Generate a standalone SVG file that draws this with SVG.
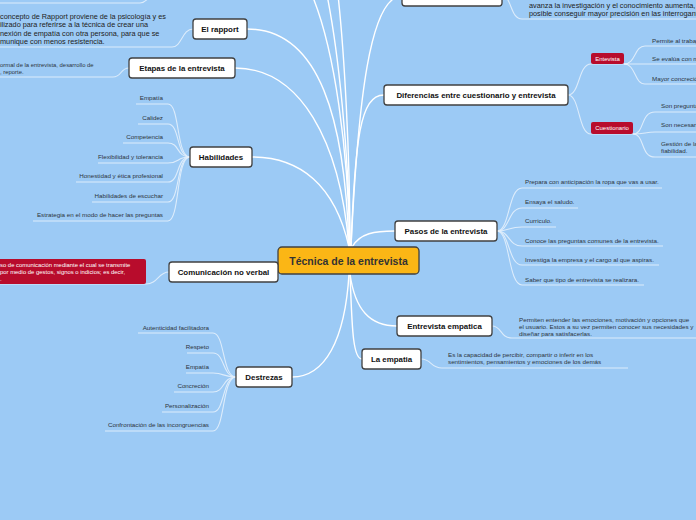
<svg xmlns="http://www.w3.org/2000/svg" width="696" height="520" viewBox="0 0 696 520">
<style>
.bg{fill:#9ccaf5}
.main{fill:none;stroke:#ffffff;stroke-width:1.4}
.sub{fill:none;stroke:#e3f0fc;stroke-width:1.1;opacity:0.9}
.node{fill:#ffffff;stroke:#404040;stroke-width:1.3}
.center{fill:#fbb615;stroke:#404040;stroke-width:1.3}
.red{fill:#b80c2c}
.nt{font-family:"Liberation Sans",Arial,sans-serif;font-weight:bold;font-size:7.9px;fill:#111;text-anchor:middle}
.ct{font-family:"Liberation Sans",Arial,sans-serif;font-weight:bold;font-size:10.5px;fill:#333;text-anchor:middle}
.lf{font-family:"Liberation Sans",Arial,sans-serif;font-size:6.25px;fill:#2d3540}
.lr{font-family:"Liberation Sans",Arial,sans-serif;font-size:6.25px;fill:#2d3540;text-anchor:end}
.big{font-family:"Liberation Sans",Arial,sans-serif;font-size:7.3px;fill:#222}
.wt{font-family:"Liberation Sans",Arial,sans-serif;font-size:5.9px;fill:#ffffff}
.rt{font-family:"Liberation Sans",Arial,sans-serif;font-size:6px;fill:#ffffff;text-anchor:middle}
</style>
<rect class="bg" x="0" y="0" width="696" height="520"/>
<g id="connectors">
<path class="main" d="M349 247 C345 120 320 29 247 29"/>
<path class="main" d="M349 247 C340 140 300 68 235 68"/>
<path class="main" d="M349 247 C335 185 300 157 252 157"/>
<path class="main" d="M351 247 C355 140 360 95 384 95"/>
<path class="main" d="M351 247 C358 100 370 -4 402 -4"/>
<path class="main" d="M350 247 C348 150 335 50 312 -5"/>
<path class="main" d="M350 247 C349 150 338 50 327 -5"/>
<path class="main" d="M350 247 C350 150 344 50 338 -5"/>
<path class="main" d="M352 247 C360 233 375 231 395 231"/>
<path class="main" d="M350 274 C355 310 370 326 397 326"/>
<path class="main" d="M350 274 C352 320 352 359 362 359"/>
<path class="main" d="M349 274 C345 340 325 377 292 377"/>
<path class="sub" d="M0 3 L140 3 C146 3 148 -2 152 -6"/>
<path class="sub" d="M0 47 L172 47 C182 47 182 29 193 29"/>
<path class="sub" d="M0 77 L113 77 C122 77 120 68 129 68"/>
<path class="sub" d="M502 -4 C512 -4 510 19 522 19 L696 19"/>
<path class="sub" d="M568 95 C580 95 578 64 591 64 L628 64"/>
<path class="sub" d="M568 95 C580 95 578 134 591 134 L633 134"/>
<path class="sub" d="M624 64 C636 64 634 46 645 46 L696 46"/>
<path class="sub" d="M624 64 L696 64"/>
<path class="sub" d="M624 64 C636 64 634 84 645 84 L696 84"/>
<path class="sub" d="M633 134 C645 134 640 112 655 112 L696 112"/>
<path class="sub" d="M633 134 C645 134 645 132 655 132 L696 132"/>
<path class="sub" d="M633 134 C645 134 640 157 655 157 L696 157"/>
<path class="sub" d="M136 104 L168 104 C180 104 176 157 190 157"/>
<path class="sub" d="M138 124 L168 124 C180 124 176 157 190 157"/>
<path class="sub" d="M123 143 L168 143 C180 143 176 157 190 157"/>
<path class="sub" d="M98 163 L168 163 C180 163 176 157 190 157"/>
<path class="sub" d="M76 182 L168 182 C180 182 176 157 190 157"/>
<path class="sub" d="M92 202 L168 202 C180 202 176 157 190 157"/>
<path class="sub" d="M33 221 L168 221 C180 221 176 157 190 157"/>
<path class="sub" d="M138 333 L213 333 C225 333 222 377 236 377"/>
<path class="sub" d="M187 353 L213 353 C225 353 222 377 236 377"/>
<path class="sub" d="M186 373 L213 373 C225 373 222 377 236 377"/>
<path class="sub" d="M174 392 L213 392 C225 392 222 377 236 377"/>
<path class="sub" d="M162 412 L213 412 C225 412 222 377 236 377"/>
<path class="sub" d="M105 431 L213 431 C225 431 222 377 236 377"/>
<path class="sub" d="M497 231 C510 231 508 188 522 188 L662 188"/>
<path class="sub" d="M497 231 C510 231 508 208 522 208 L578 208"/>
<path class="sub" d="M497 231 C510 231 508 227 522 227 L556 227"/>
<path class="sub" d="M497 231 C510 231 508 246 522 246 L663 246"/>
<path class="sub" d="M497 231 C510 231 508 265 522 265 L659 265"/>
<path class="sub" d="M497 231 C510 231 508 285 522 285 L644 285"/>
<path class="sub" d="M0 284 L146 284 C158 284 158 272 169 272"/>
<path class="sub" d="M492 326 C502 326 500 338 512 338 L696 338"/>
<path class="sub" d="M421 359 C432 359 430 368 442 368 L628 368"/>
</g>
<g id="center"><rect class="center" x="278" y="247" width="141" height="27" rx="4"/><text class="ct" x="348.5" y="264.5">Técnica de la entrevista</text></g>
<g id="top-node"><rect class="node" x="402" y="-14" width="100" height="20" rx="3"/></g>
<g id="top-text"><text class="big" x="529" y="8">avanza la investigación y el conocimiento aumenta, es</text><text class="big" x="529" y="16">posible conseguir mayor precisión en las interrogantes</text></g>
<g id="rapport"><rect class="node" x="193" y="19" width="54" height="20" rx="3"/><text class="nt" x="220" y="32">El rapport</text></g>
<g id="rapport-text"><text class="big" x="0" y="18.5">concepto de Rapport proviene de la psicología y es</text><text class="big" x="0" y="27">ilizado para referirse a la técnica de crear una</text><text class="big" x="0" y="35.5">nexión de empatía con otra persona, para que se</text><text class="big" x="0" y="44">munique con menos resistencia.</text></g>
<g id="etapas"><rect class="node" x="129" y="58" width="106" height="20" rx="3"/><text class="nt" x="182" y="71">Etapas de la entrevista</text></g>
<g id="etapas-text"><text class="lf" x="0" y="67" style="font-size:5.9px">ormal de la entrevista, desarrollo de</text><text class="lf" x="0" y="74" style="font-size:5.9px">, reporte.</text></g>
<g id="habilidades"><rect class="node" x="190" y="147" width="62" height="20" rx="3"/><text class="nt" x="221" y="160">Habilidades</text></g>
<g id="habilidades-items">
<text class="lr" x="163" y="100">Empatía</text>
<text class="lr" x="163" y="120">Calidez</text>
<text class="lr" x="163" y="139">Competencia</text>
<text class="lr" x="163" y="159">Flexibilidad y tolerancia</text>
<text class="lr" x="163" y="178">Honestidad y ética profesional</text>
<text class="lr" x="163" y="198">Habilidades de escuchar</text>
<text class="lr" x="163" y="217">Estrategia en el modo de hacer las preguntas</text>
</g>
<g id="comunicacion"><rect class="node" x="169" y="262" width="109" height="20" rx="3"/><text class="nt" x="223.5" y="275">Comunicación no verbal</text></g>
<g id="comunicacion-def"><rect class="red" x="-6" y="259" width="152" height="25" rx="2"/><text class="wt" x="0" y="266.5">so de comunicación mediante el cual se transmite</text><text class="wt" x="0" y="273.5">por medio de gestos, signos o indicios; es decir,</text><text class="wt" x="0" y="280.5">.</text></g>
<g id="destrezas"><rect class="node" x="236" y="367" width="56" height="20" rx="3"/><text class="nt" x="264" y="380">Destrezas</text></g>
<g id="destrezas-items">
<text class="lr" x="209" y="329.5">Autenticidad facilitadora</text>
<text class="lr" x="209" y="349">Respeto</text>
<text class="lr" x="209" y="369">Empatía</text>
<text class="lr" x="209" y="388">Concreción</text>
<text class="lr" x="209" y="408">Personalización</text>
<text class="lr" x="209" y="427">Confrontación de las incongruencias</text>
</g>
<g id="diferencias"><rect class="node" x="384" y="85" width="184" height="20" rx="3"/><text class="nt" x="476" y="98">Diferencias entre cuestionario y entrevista</text></g>
<g id="entevista"><rect class="red" x="591" y="53" width="33" height="11" rx="2"/><text class="rt" x="607.5" y="60.5">Entevista</text></g>
<g id="entevista-items"><text class="lf" x="652" y="43">Permite al trabaj</text><text class="lf" x="652" y="61">Se evalúa con m</text><text class="lf" x="652" y="81">Mayor concreció</text></g>
<g id="cuestionario"><rect class="red" x="591" y="122" width="42" height="12" rx="2"/><text class="rt" x="612" y="130">Cuestionario</text></g>
<g id="cuestionario-items"><text class="lf" x="661" y="108">Son pregunta</text><text class="lf" x="661" y="127">Son necesari</text><text class="lf" x="661" y="146">Gestión de la</text><text class="lf" x="661" y="153">fiabilidad.</text></g>
<g id="pasos"><rect class="node" x="395" y="221" width="102" height="20" rx="3"/><text class="nt" x="446" y="234">Pasos de la entrevista</text></g>
<g id="pasos-items">
<text class="lf" x="525" y="184">Prepara con anticipación la ropa que vas a usar.</text>
<text class="lf" x="525" y="204">Ensaya el saludo.</text>
<text class="lf" x="525" y="223">Curriculo.</text>
<text class="lf" x="525" y="243">Conoce las preguntas comunes de la entrevista.</text>
<text class="lf" x="525" y="262">Investiga la empresa y el cargo al que aspiras.</text>
<text class="lf" x="525" y="282">Saber que tipo de entrevista se realizara.</text>
</g>
<g id="entrevista-empatica"><rect class="node" x="397" y="316" width="95" height="20" rx="3"/><text class="nt" x="444.5" y="329">Entrevista empatica</text></g>
<g id="entrevista-empatica-text"><text class="lf" x="519" y="322">Permiten entender las emociones, motivación y opciones que</text><text class="lf" x="519" y="329">el usuario. Estos a su vez permiten conocer sus necesidades y</text><text class="lf" x="519" y="336">diseñar para satisfacerlas.</text></g>
<g id="la-empatia"><rect class="node" x="362" y="349" width="59" height="20" rx="3"/><text class="nt" x="391.5" y="362">La empatia</text></g>
<g id="la-empatia-text"><text class="lf" x="448" y="357">Es la capacidad de percibir, compartir o inferir en los</text><text class="lf" x="448" y="364">sentimientos, pensamientos y emociones de los demás</text></g>
</svg>
